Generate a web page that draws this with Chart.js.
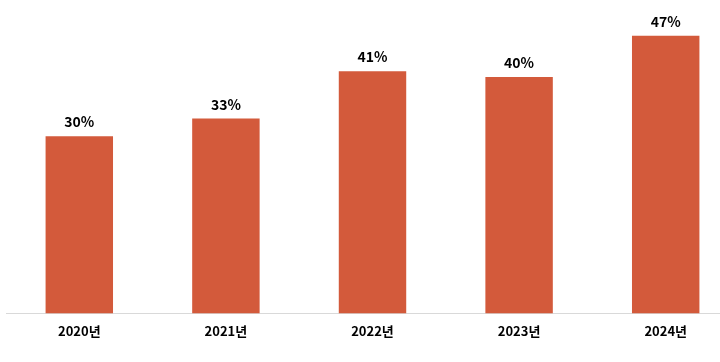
<!DOCTYPE html>
<html>
<head>
<meta charset="utf-8">
<script src="https://cdn.jsdelivr.net/npm/chart.js@4"></script>
<style>
  html, body { margin: 0; padding: 0; background: #fff; overflow: hidden; }
  #wrap { width: 740px; height: 362px; position: relative; }
</style>
</head>
<body>
<div id="wrap"><canvas id="chart"></canvas></div>
<script>
// data
const years = ["2020년", "2021년", "2022년", "2023년", "2024년"];
const rates = [30, 33, 41, 40, 47];

const fontFamily = "'Noto Sans CJK KR', 'Noto Sans', sans-serif";

// value labels above bars
const valueLabels = {
  id: "valueLabels",
  afterDatasetsDraw(chart) {
    const ctx = chart.ctx;
    const meta = chart.getDatasetMeta(0);
    ctx.save();
    ctx.font = "bold 14px " + fontFamily;
    ctx.fillStyle = "#000";
    ctx.textAlign = "center";
    ctx.textBaseline = "bottom";
    meta.data.forEach((bar, i) => {
      ctx.fillText(rates[i] + "%", bar.x, bar.y - 7);
    });
    ctx.restore();
  }
};

new Chart(document.getElementById("chart"), {
  type: "bar",
  data: {
    labels: years,
    datasets: [{
      data: rates,
      backgroundColor: "#D35A3B",
      categoryPercentage: 1,
      barPercentage: 0.46
    }]
  },
  options: {
    responsive: true,
    maintainAspectRatio: false,
    animation: false,
    layout: { padding: { left: 6, right: 1, top: 18, bottom: 13 } },
    plugins: { legend: { display: false }, tooltip: { enabled: false } },
    scales: {
      x: {
        grid: { display: false, drawTicks: false },
        border: { display: true, color: "#d9d9d9", width: 1 },
        ticks: { color: "#000", font: { family: fontFamily, size: 13, weight: "bold" }, padding: 10 }
      },
      y: {
        display: false,
        min: 0,
        max: 50
      }
    }
  },
  plugins: [valueLabels]
});
</script>
</body>
</html>
